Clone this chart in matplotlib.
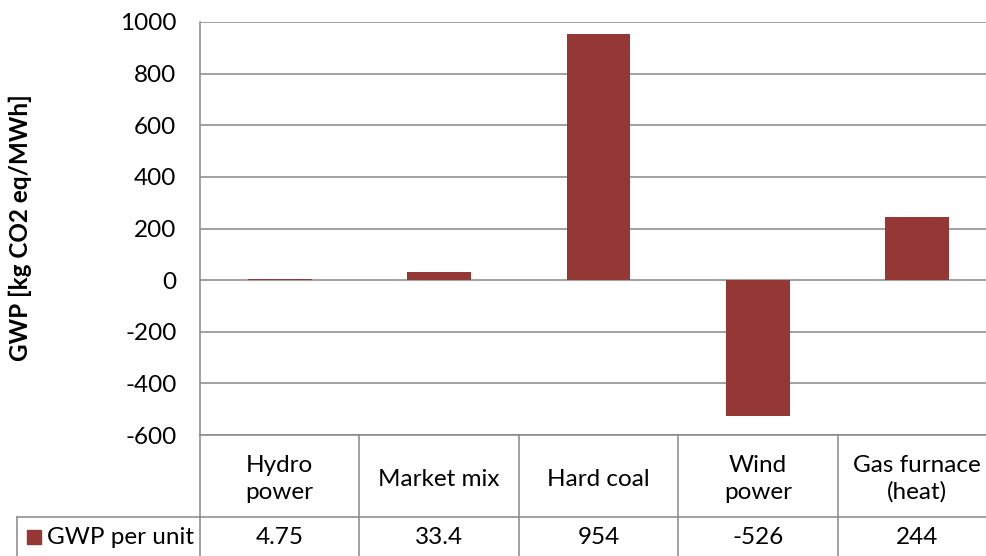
import matplotlib
matplotlib.use("Agg")
import matplotlib.pyplot as plt
from matplotlib.transforms import blended_transform_factory

categories = ["Hydro\npower", "Market mix", "Hard coal", "Wind\npower", "Gas furnace\n(heat)"]
values = [4.75, 33.4, 954, -526, 244]
value_labels = ["4.75", "33.4", "954", "-526", "244"]
series_name = "GWP per unit"
yticks = [-600, -400, -200, 0, 200, 400, 600, 800, 1000]

plt.rcParams["font.family"] = ["Lato", "DejaVu Sans"]
BAR = "#953735"
GRID = "#888888"
FS = 17.5
W, H = 987, 556

fig = plt.figure(figsize=(W / 100, H / 100), dpi=100)
left_px, right_px, top_px, bottom_px = 200, 997, 22, 435
ax = fig.add_axes([left_px / W, 1 - bottom_px / H,
                   (right_px - left_px) / W, (bottom_px - top_px) / H])

x = list(range(len(categories)))
ax.bar(x, values, width=0.4, color=BAR, zorder=3)
ax.set_xlim(-0.5, len(categories) - 0.5)
ax.set_ylim(-600, 1000)
ax.set_yticks(yticks)
ax.set_yticklabels([str(t) for t in yticks], fontsize=FS)
ax.tick_params(axis="y", length=0, pad=17)
ax.set_xticks([])
ax.yaxis.grid(True, color=GRID, linewidth=1.1, zorder=0)
for s in ["top", "right", "bottom"]:
    ax.spines[s].set_visible(False)
ax.spines["left"].set_color(GRID)
ax.spines["left"].set_linewidth(1.1)

# data table below the plot
tr = blended_transform_factory(ax.transData, ax.transAxes)
ax_h = bottom_px - top_px
row1 = -(517 - bottom_px) / ax_h
fig_bot = -(H - bottom_px) / ax_h
px = 1 / ax_h
lk = dict(color=GRID, linewidth=1.1, clip_on=False, transform=tr)
ax.plot([-0.5, len(categories) - 0.5], [0, 0], **lk)
ax.plot([-0.5, len(categories) - 0.5], [row1, row1], **lk)
for k in range(len(categories) + 1):
    ax.plot([k - 0.5, k - 0.5], [0, fig_bot], **lk)
for i, (c, v) in enumerate(zip(categories, value_labels)):
    ax.text(i, row1 / 2 - 3 * px, c, ha="center", va="center", fontsize=FS,
            linespacing=1.3, transform=tr)
    ax.text(i, (row1 + fig_bot) / 2 - 1 * px, v, ha="center", va="center",
            fontsize=FS, transform=tr)

# legend cell on the left of the data row
fig.add_artist(plt.Line2D([17 / W, left_px / W], [1 - 517 / H, 1 - 517 / H],
                          color=GRID, linewidth=1.1))
fig.add_artist(plt.Line2D([17 / W, 17 / W], [0, 1 - 517 / H],
                          color=GRID, linewidth=1.1))
fig.add_artist(plt.Rectangle((27 / W, 1 - 544 / H), 14 / W, 14 / H,
                             color=BAR, transform=fig.transFigure))
fig.text(47 / W, 1 - 538 / H, series_name, ha="left", va="center", fontsize=FS)

fig.text(20 / W, 1 - 228 / H, "GWP [kg CO2 eq/MWh]", rotation=90,
         ha="center", va="center", fontsize=FS, fontweight="bold")

fig.savefig("out.png", dpi=100)
